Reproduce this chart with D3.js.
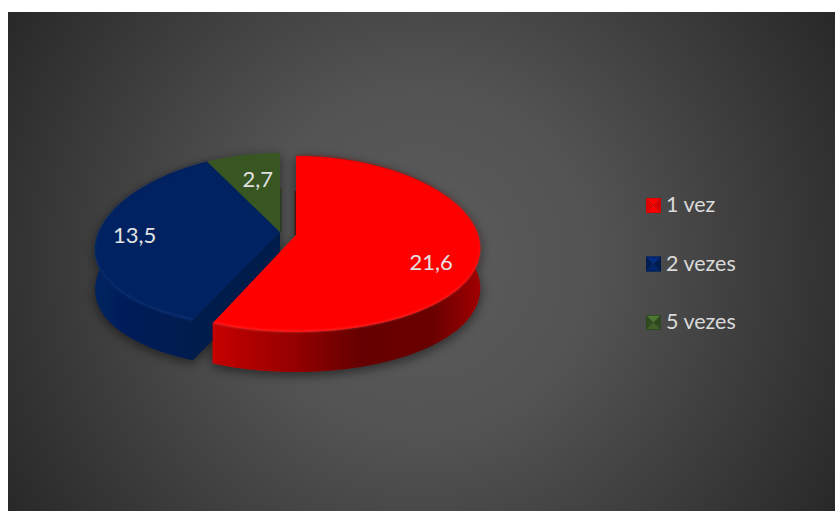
<!DOCTYPE html>
<html>
<head>
<meta charset="utf-8">
<style>
html,body{margin:0;padding:0;background:#fff;overflow:hidden}
svg{display:block}
text{font-family:Lato,"Open Sans",sans-serif}
</style>
<script src="https://cdn.jsdelivr.net/npm/d3@7/dist/d3.min.js"></script>
</head>
<body>
<svg id="chart" width="835" height="511"></svg>
<script>
// Frequency categories and their values
const categories = ["1 vez", "2 vezes", "5 vezes"];
const values = [21.6, 13.5, 2.7];
const valueLabels = ["21,6", "13,5", "2,7"];
const topColors = ["#ff0000", "#002060", "#375623"];

// Where each slice sits on the tilted disc, and where its label rests
const slicePivots = [{x: 296, y: 244}, {x: 280, y: 241}, {x: 280, y: 241}];
const sliceSkew = [0.05, 0.1, 0.1];
const labelRadius = [0.745, 0.79, 0.6];
const labelNudge = [14, 4, 1];

const radiusX = 184, radiusY = 88, depth = 40, apexLift = 9;

const svg = d3.select("#chart");
const defs = svg.append("defs");

const bg = defs.append("radialGradient").attr("id", "bg")
  .attr("gradientUnits", "userSpaceOnUse")
  .attr("cx", 421).attr("cy", 262).attr("r", 500);
bg.append("stop").attr("offset", 0).attr("stop-color", "#5c5c5c");
bg.append("stop").attr("offset", 0.35).attr("stop-color", "#535353");
bg.append("stop").attr("offset", 1).attr("stop-color", "#262626");

const redSide = defs.append("linearGradient").attr("id", "side0")
  .attr("gradientUnits", "userSpaceOnUse")
  .attr("x1", 212).attr("x2", 480).attr("y1", 0).attr("y2", 0);
[[0, "#c60000"], [0.3, "#960000"], [0.55, "#660000"], [0.82, "#680000"], [1, "#a00000"]]
  .forEach(([o, c]) => redSide.append("stop").attr("offset", o).attr("stop-color", c));

const blueSide = defs.append("linearGradient").attr("id", "side1")
  .attr("gradientUnits", "userSpaceOnUse")
  .attr("x1", 96).attr("x2", 215).attr("y1", 0).attr("y2", 0);
[[0, "#00215f"], [0.5, "#001c54"], [1, "#001a4c"]]
  .forEach(([o, c]) => blueSide.append("stop").attr("offset", o).attr("stop-color", c));

// Bevel highlights: the back of the rim stays dark, the front catches the light
const rimGlow = [["rim0", "#c00000", "#ff7070"], ["rim1", "#001f5c", "#2a5cb0"]];
rimGlow.forEach(([id, back, front]) => {
  const g = defs.append("linearGradient").attr("id", id)
    .attr("gradientUnits", "userSpaceOnUse")
    .attr("x1", 0).attr("x2", 0).attr("y1", 155).attr("y2", 332);
  g.append("stop").attr("offset", 0).attr("stop-color", back);
  g.append("stop").attr("offset", 1).attr("stop-color", front);
});

const shadow = defs.append("filter").attr("id", "soft")
  .attr("x", "-20%").attr("y", "-20%").attr("width", "140%").attr("height", "140%");
shadow.append("feDropShadow").attr("dx", 0).attr("dy", 3)
  .attr("stdDeviation", 6).attr("flood-color", "#000").attr("flood-opacity", 0.55);

const edgeBlur = defs.append("filter").attr("id", "edge")
  .attr("x", "-5%").attr("y", "-5%").attr("width", "110%").attr("height", "110%");
edgeBlur.append("feGaussianBlur").attr("stdDeviation", 0.8);

svg.append("rect").attr("x", 8).attr("y", 12).attr("width", 827).attr("height", 499).attr("fill", "url(#bg)");

const slices = d3.pie().sort(null)(values);

// Rim point of the disc; the front of the ellipse reads slightly wider than the back
function rim(a, i) {
  const p = slicePivots[i];
  return [p.x + radiusX * Math.sin(a) * (1 - sliceSkew[i] * Math.cos(a)), p.y - radiusY * Math.cos(a)];
}
const apex = i => [slicePivots[i].x, slicePivots[i].y - apexLift];
const down = (pt, extra = 0) => [pt[0] + extra, pt[1] + depth];
const line = d3.line();

function rimPoints(s, i) {
  const n = Math.ceil((s.endAngle - s.startAngle) * 40);
  return d3.range(n + 1).map(k => rim(s.startAngle + (s.endAngle - s.startAngle) * k / n, i));
}

const pie3d = svg.append("g").attr("filter", "url(#soft)");

// Side walls first, painted back to front so the top faces cover them
[1, 0].forEach(i => {
  const s = slices[i], r = rimPoints(s, i), a = apex(i);
  if (i === 1) {
    const b = r[0];
    pie3d.append("path").attr("fill", "#001a4c")
      .attr("d", line([a, b, down(b), down(a)]) + "Z");
  }
  pie3d.append("path").attr("fill", `url(#side${i})`)
    .attr("d", line(r.concat(r.map(d => down(d)).reverse())) + "Z");
});

// Top faces with a thin bevelled rim
[1, 2, 0].forEach(i => {
  const s = slices[i], r = rimPoints(s, i), a = apex(i);
  pie3d.append("path").attr("fill", topColors[i]).attr("d", line([a].concat(r)) + "Z");
  if (i !== 2) {
    svg.append("path").attr("fill", "none")
      .attr("stroke", `url(#rim${i})`)
      .attr("stroke-opacity", 0.45).attr("stroke-width", 1.3).attr("filter", "url(#edge)")
      .attr("d", line(r.map(d => [d[0], d[1] - 0.5])));
  }
});

// Slivers of the inner cut faces seen along the gap between the slices
const slivers = [{i: 2, side: 1, fill: "#26391a"}, {i: 0, side: -1, fill: "#4d0a0a"}];
slivers.forEach(({i, side, fill}) => {
  const a = apex(i), top = a[1] - 44;
  svg.append("path").attr("fill", fill).attr("fill-opacity", 0.8)
    .attr("d", line([[a[0], top], [a[0] + side * 1.5, top], [a[0] + side * 1.5, a[1]], a]) + "Z");
});

// Value labels
slices.forEach((s, i) => {
  const mid = (s.startAngle + s.endAngle) / 2, a = apex(i), e = rim(mid, i);
  svg.append("text")
    .attr("x", a[0] + (e[0] - a[0]) * labelRadius[i])
    .attr("y", a[1] + (e[1] - a[1]) * labelRadius[i] + labelNudge[i])
    .attr("text-anchor", "middle").attr("font-size", 22).attr("fill", "#e2e2e2")
    .text(valueLabels[i]);
});

// Legend with pyramid-shaped swatches
const legendY = d3.scalePoint().domain(categories).range([198, 315]);
const swatch = 15;
categories.forEach((c, i) => {
  const x0 = 646, y0 = legendY(c), x1 = x0 + swatch, y1 = y0 + swatch;
  const m = [x0 + swatch / 2, y0 + swatch / 2];
  const base = d3.color(topColors[i]);
  const facets = [
    [[[x0, y0], [x1, y0], m], base.brighter(0.9)],
    [[[x0, y0], [x0, y1], m], base.darker(0.3)],
    [[[x1, y0], [x1, y1], m], base.darker(0.5)],
    [[[x0, y1], [x1, y1], m], base.brighter(0.35)]
  ];
  facets.forEach(([pts, col]) => svg.append("path").attr("d", line(pts) + "Z").attr("fill", col));
  svg.append("rect").attr("x", x0 + 0.5).attr("y", y0 + 0.5).attr("width", swatch - 1).attr("height", swatch - 1)
    .attr("fill", "none").attr("stroke", base.darker(0.6)).attr("stroke-opacity", 0.8).attr("stroke-width", 1);
  svg.append("text").attr("x", 666).attr("y", y0 + 14)
    .attr("font-size", 21.5).attr("fill", "#dadada").text(c);
});
</script>
</body>
</html>
